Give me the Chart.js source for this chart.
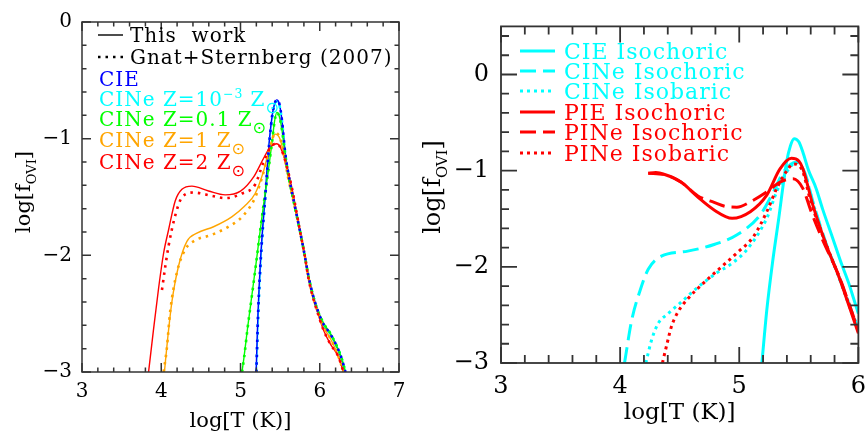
<!DOCTYPE html>
<html>
<head>
<meta charset="utf-8">
<script src="https://cdn.jsdelivr.net/npm/chart.js@4.4.0/dist/chart.umd.min.js"></script>
<style>
html, body { margin: 0; padding: 0; background: #fff; overflow: hidden; width: 865px; height: 437px; }
canvas { position: absolute; top: 0; }
#left { left: 0; }
#right { left: 415px; }
</style>
</head>
<body>
<canvas id="left" width="415" height="437"></canvas>
<canvas id="right" width="460" height="437"></canvas>
<script>
// ---- left panel: log T vs log f_OVI, this work (solid) ----
const cieT = [5.197, 5.22, 5.256, 5.31, 5.366, 5.40, 5.43, 5.458, 5.49, 5.522, 5.564, 5.62, 5.68, 5.753, 5.81, 5.858, 5.91, 5.963, 6.047, 6.131, 6.216, 6.27, 6.32];
const cieF = [-3.0, -2.5, -2.0, -1.5, -1.0, -0.80, -0.70, -0.668, -0.70, -0.835, -1.12, -1.36, -1.56, -1.80, -2.0, -2.18, -2.33, -2.45, -2.59, -2.673, -2.785, -2.88, -3.0];
const z3T = [5.20, 5.225, 5.26, 5.312, 5.368, 5.40, 5.43, 5.46, 5.49, 5.522, 5.564, 5.62, 5.68, 5.753, 5.81, 5.858, 5.91, 5.963, 6.047, 6.131, 6.216, 6.27, 6.325];
const z3F = [-3.0, -2.5, -2.0, -1.5, -1.0, -0.81, -0.71, -0.68, -0.71, -0.84, -1.12, -1.36, -1.56, -1.80, -2.0, -2.18, -2.33, -2.45, -2.59, -2.67, -2.78, -2.87, -3.0];
const z01T = [5.018, 5.04, 5.09, 5.144, 5.20, 5.249, 5.30, 5.35, 5.40, 5.43, 5.46, 5.49, 5.522, 5.564, 5.62, 5.68, 5.753, 5.81, 5.858, 5.91, 5.963, 6.047, 6.131, 6.216, 6.27, 6.325];
const z01F = [-3.0, -2.896, -2.62, -2.34, -2.05, -1.783, -1.52, -1.28, -1.02, -0.85, -0.775, -0.81, -0.92, -1.15, -1.37, -1.57, -1.80, -2.0, -2.18, -2.33, -2.45, -2.58, -2.665, -2.78, -2.87, -3.0];
const z1T = [4.04, 4.08, 4.135, 4.219, 4.324, 4.45, 4.66, 4.89, 5.05, 5.185, 5.29, 5.374, 5.44, 5.49, 5.542, 5.60, 5.68, 5.753, 5.81, 5.858, 5.91, 5.963, 6.047, 6.131, 6.216, 6.30];
const z1F = [-3.0, -2.72, -2.395, -2.089, -1.88, -1.81, -1.755, -1.67, -1.58, -1.47, -1.28, -1.06, -0.961, -0.99, -1.114, -1.33, -1.57, -1.80, -2.0, -2.19, -2.34, -2.46, -2.61, -2.71, -2.83, -3.0];
const z2T = [3.84, 3.90, 3.966, 4.03, 4.092, 4.177, 4.261, 4.387, 4.597, 4.807, 5.0, 5.164, 5.29, 5.374, 5.459, 5.50, 5.542, 5.60, 5.648, 5.753, 5.81, 5.858, 5.91, 5.963, 6.047, 6.131, 6.236, 6.30];
const z2F = [-3.0, -2.65, -2.284, -1.98, -1.783, -1.532, -1.434, -1.407, -1.449, -1.482, -1.45, -1.33, -1.17, -1.073, -1.044, -1.07, -1.142, -1.28, -1.42, -1.80, -2.0, -2.20, -2.35, -2.47, -2.64, -2.757, -2.87, -3.0];

// ---- left panel: Gnat+Sternberg (2007), dotted ----
const gsCieT = [5.20, 5.222, 5.258, 5.312, 5.368, 5.40, 5.43, 5.458, 5.49, 5.522, 5.564, 5.62, 5.68, 5.753, 5.81, 5.858, 5.91, 5.963, 6.047, 6.131, 6.216, 6.27, 6.325];
const gsCieF = [-3.0, -2.5, -2.0, -1.5, -1.0, -0.80, -0.70, -0.668, -0.70, -0.835, -1.12, -1.36, -1.56, -1.80, -2.0, -2.18, -2.33, -2.45, -2.59, -2.67, -2.78, -2.87, -3.0];
const gsZ3T = [5.20, 5.224, 5.26, 5.313, 5.369, 5.40, 5.43, 5.46, 5.49, 5.522, 5.564, 5.62, 5.68, 5.753, 5.81, 5.858, 5.91, 5.963, 6.047, 6.131, 6.216, 6.27, 6.325];
const gsZ3F = [-3.0, -2.5, -2.0, -1.5, -1.0, -0.81, -0.71, -0.68, -0.71, -0.84, -1.12, -1.36, -1.56, -1.80, -2.0, -2.18, -2.33, -2.45, -2.59, -2.67, -2.78, -2.87, -3.0];
const gsZ01T = [5.02, 5.045, 5.09, 5.145, 5.20, 5.25, 5.30, 5.35, 5.40, 5.43, 5.46, 5.49, 5.522, 5.564, 5.62, 5.68, 5.753, 5.81, 5.858, 5.91, 5.963, 6.047, 6.131, 6.216, 6.27, 6.325];
const gsZ01F = [-3.0, -2.88, -2.62, -2.34, -2.05, -1.78, -1.52, -1.28, -1.02, -0.85, -0.78, -0.81, -0.92, -1.15, -1.37, -1.57, -1.80, -2.0, -2.18, -2.33, -2.45, -2.58, -2.665, -2.78, -2.87, -3.0];
const gsZ1T = [4.03, 4.07, 4.113, 4.198, 4.303, 4.43, 4.639, 4.849, 5.018, 5.185, 5.29, 5.374, 5.44, 5.49, 5.542, 5.60, 5.68, 5.753, 5.81, 5.858, 5.91, 5.963, 6.047, 6.131, 6.216, 6.30];
const gsZ1F = [-3.0, -2.8, -2.479, -2.145, -1.95, -1.871, -1.824, -1.754, -1.671, -1.504, -1.29, -1.07, -0.95, -0.98, -1.11, -1.33, -1.57, -1.80, -2.0, -2.19, -2.34, -2.46, -2.61, -2.71, -2.83, -3.0];
const gsZ2T = [4.009, 4.05, 4.092, 4.177, 4.261, 4.408, 4.639, 4.807, 5.018, 5.185, 5.29, 5.374, 5.459, 5.50, 5.542, 5.60, 5.648, 5.753, 5.81, 5.858, 5.91, 5.963, 6.047, 6.131, 6.236, 6.30];
const gsZ2F = [-2.297, -2.10, -1.921, -1.657, -1.504, -1.462, -1.49, -1.51, -1.47, -1.393, -1.20, -1.08, -1.04, -1.07, -1.14, -1.28, -1.42, -1.80, -2.0, -2.20, -2.35, -2.47, -2.64, -2.757, -2.87, -3.0];

// ---- right panel ----
const cieIsochoricT = [5.19, 5.231, 5.28, 5.328, 5.397, 5.43, 5.461, 5.50, 5.535, 5.58, 5.646, 5.70, 5.784, 5.85, 5.922, 5.96, 6.0];
const cieIsochoricF = [-3.0, -2.453, -1.95, -1.529, -0.913, -0.74, -0.667, -0.70, -0.811, -0.99, -1.187, -1.40, -1.70, -1.94, -2.18, -2.33, -2.487];
const cineIsochoricT = [4.037, 4.097, 4.167, 4.236, 4.346, 4.568, 4.789, 4.982, 5.176, 5.287, 5.37, 5.48, 5.55, 5.62, 5.73, 5.84, 5.92, 6.0];
const cineIsochoricF = [-3.0, -2.556, -2.248, -2.025, -1.889, -1.837, -1.768, -1.666, -1.46, -1.221, -1.015, -0.913, -1.02, -1.33, -1.76, -2.11, -2.38, -2.65];
const cineIsobaricT = [4.216, 4.264, 4.319, 4.402, 4.512, 4.65, 4.816, 4.927, 5.065, 5.231, 5.314, 5.397, 5.48, 5.55, 5.62, 5.73, 5.84, 5.92, 6.0];
const cineIsobaricF = [-3.0, -2.761, -2.59, -2.487, -2.368, -2.214, -2.06, -1.974, -1.82, -1.495, -1.221, -1.016, -0.913, -1.03, -1.34, -1.77, -2.12, -2.39, -2.65];
const pieIsochoricT = [4.236, 4.30, 4.374, 4.512, 4.65, 4.789, 4.94, 5.093, 5.231, 5.342, 5.438, 5.50, 5.535, 5.618, 5.729, 5.839, 5.92, 6.0];
const pieIsochoricF = [-1.026, -1.02, -1.04, -1.119, -1.273, -1.409, -1.495, -1.427, -1.255, -0.982, -0.872, -0.90, -0.982, -1.358, -1.768, -2.111, -2.40, -2.692];
const pineIsochoricT = [4.236, 4.374, 4.512, 4.65, 4.789, 4.899, 4.98, 5.093, 5.231, 5.342, 5.452, 5.535, 5.604, 5.70, 5.839, 5.92, 6.0];
const pineIsochoricF = [-1.026, -1.04, -1.12, -1.26, -1.33, -1.375, -1.38, -1.324, -1.221, -1.119, -1.085, -1.187, -1.427, -1.72, -2.10, -2.38, -2.66];
const pineIsobaricT = [4.355, 4.388, 4.43, 4.485, 4.568, 4.706, 4.844, 4.982, 5.121, 5.231, 5.314, 5.40, 5.452, 5.53, 5.60, 5.73, 5.84, 5.92, 6.0];
const pineIsobaricF = [-3.0, -2.83, -2.624, -2.47, -2.333, -2.162, -2.008, -1.854, -1.683, -1.427, -1.187, -1.0, -0.93, -1.0, -1.32, -1.77, -2.11, -2.39, -2.66];

const BLUE = '#0000ff', CYAN = '#00ffff', GREEN = '#00ff00', ORANGE = '#ffa500', RED = '#ff0000';
const FONT = '"DejaVu Serif", serif';

function pts(xs, ys) {
    return xs.map((x, i) => ({ x: x, y: ys[i] }));
}

function line(xs, ys, color, width, dash, order) {
    return {
        data: pts(xs, ys),
        borderColor: color,
        borderWidth: width,
        borderDash: dash,
        pointRadius: 0,
        fill: false,
        cubicInterpolationMode: 'monotone',
        order: order
    };
}

// text pieces: sup = superscript, sub = subscript, sun = the solar symbol
function pieceSize(p, size) {
    if (p.sun) return size * 0.8;
    return (p.sup || p.sub) ? size * 0.62 : size;
}

function drawRich(ctx, x, y, parts, size, color) {
    ctx.fillStyle = color;
    ctx.textBaseline = 'alphabetic';
    ctx.textAlign = 'left';
    for (const p of parts) {
        ctx.font = pieceSize(p, size) + 'px ' + (p.sun ? '"DejaVu Sans"' : FONT);
        let dy = 0;
        if (p.sup) dy = -size * 0.42;
        if (p.sub) dy = size * 0.28;
        if (p.sun) dy = size * 0.36;
        ctx.fillText(p.t, x, y + dy);
        x += ctx.measureText(p.t).width;
    }
    return x;
}

function richWidth(ctx, parts, size) {
    let w = 0;
    for (const p of parts) {
        ctx.font = pieceSize(p, size) + 'px ' + FONT;
        w += ctx.measureText(p.t).width;
    }
    return w;
}

// frame with inward ticks on all sides, legend and y title
const framePlugin = {
    id: 'frame',
    afterDraw(chart, args, o) {
        const { ctx, chartArea: a, scales: { x, y } } = chart;
        ctx.save();
        ctx.strokeStyle = '#333';
        ctx.lineWidth = o.lw;
        ctx.strokeRect(a.left, a.top, a.right - a.left, a.bottom - a.top);
        ctx.beginPath();
        for (let i = Math.ceil(x.min * 5 - 1e-6); i <= Math.floor(x.max * 5 + 1e-6); i++) {
            const px = x.getPixelForValue(i / 5);
            const len = i % 5 === 0 ? o.major : o.minor;
            ctx.moveTo(px, a.bottom); ctx.lineTo(px, a.bottom - len);
            ctx.moveTo(px, a.top); ctx.lineTo(px, a.top + len);
        }
        for (let i = Math.ceil(y.min * 5 - 1e-6); i <= Math.floor(y.max * 5 + 1e-6); i++) {
            const py = y.getPixelForValue(i / 5);
            const len = i % 5 === 0 ? o.major : o.minor;
            ctx.moveTo(a.left, py); ctx.lineTo(a.left + len, py);
            ctx.moveTo(a.right, py); ctx.lineTo(a.right - len, py);
        }
        ctx.stroke();

        // legend
        ctx.letterSpacing = o.spacing + 'px';
        for (const row of o.legend) {
            if (row.sample) {
                ctx.beginPath();
                ctx.strokeStyle = row.sample.color;
                ctx.lineWidth = row.sample.width;
                ctx.setLineDash(row.sample.dash);
                ctx.moveTo(row.sample.x0, row.y - o.capMid);
                ctx.lineTo(row.sample.x1, row.y - o.capMid);
                ctx.stroke();
                ctx.setLineDash([]);
            }
            drawRich(ctx, row.x, row.y, row.parts, o.legendSize, row.color);
        }
        ctx.letterSpacing = '0px';

        // y axis title, rotated
        const tp = [{ t: 'log[f' }, { t: 'OVI', sub: true }, { t: ']' }];
        const w = richWidth(ctx, tp, o.titleSize);
        ctx.translate(o.titleX, o.titleY);
        ctx.rotate(-Math.PI / 2);
        drawRich(ctx, -w / 2, 0, tp, o.titleSize, '#000');
        ctx.restore();
    }
};

function minusTick(v) {
    return v < 0 ? '\u2212' + Math.abs(v) : String(v);
}

function axes(xmin, xmax, ymin, ymax, yWidth, xHeight, tickSize, xPad, yPad, titleSize, titlePad) {
    return {
        x: {
            type: 'linear', min: xmin, max: xmax,
            grid: { display: false, drawTicks: false },
            border: { display: false },
            ticks: { stepSize: 1, includeBounds: false, padding: xPad, color: '#000', font: { family: FONT, size: tickSize }, maxRotation: 0, callback: minusTick },
            title: { display: true, text: 'log[T (K)]', color: '#000', font: { family: FONT, size: titleSize }, padding: { top: 0, bottom: titlePad } },
            afterFit(s) { s.height = xHeight; }
        },
        y: {
            type: 'linear', min: ymin, max: ymax,
            grid: { display: false, drawTicks: false },
            border: { display: false },
            ticks: { stepSize: 1, includeBounds: false, padding: yPad, color: '#000', font: { family: FONT, size: tickSize }, callback: minusTick },
            afterFit(s) { s.width = yWidth; }
        }
    };
}

document.addEventListener('DOMContentLoaded', function () {
    const dot = [2.5, 5];
    new Chart(document.getElementById('left'), {
        type: 'line',
        data: {
            datasets: [
                line(z3T, z3F, CYAN, 1.4, [], 20),
                line(cieT, cieF, BLUE, 1.4, [], 19),
                line(z01T, z01F, GREEN, 1.4, [], 18),
                line(z1T, z1F, ORANGE, 1.4, [], 17),
                line(z2T, z2F, RED, 1.4, [], 16),
                line(gsZ3T, gsZ3F, CYAN, 2.6, dot, 15),
                line(gsZ01T, gsZ01F, GREEN, 2.6, dot, 14),
                line(gsZ1T, gsZ1F, ORANGE, 2.6, dot, 13),
                line(gsZ2T, gsZ2F, RED, 2.6, dot, 12),
                line(gsCieT, gsCieF, BLUE, 2.6, dot, 11)
            ]
        },
        options: {
            responsive: false,
            animation: false,
            layout: { padding: { left: 0, top: 13, right: 16, bottom: 0 } },
            scales: axes(3, 7, -3, 0, 82, 65, 20, 8, 10, 21, 3),
            plugins: {
                legend: { display: false },
                tooltip: { enabled: false },
                frame: {
                    lw: 1.5, major: 9, minor: 4.5,
                    legendSize: 20, spacing: 1, capMid: 7,
                    titleSize: 21, titleX: 30, titleY: 192,
                    legend: [
                        { x: 130, y: 42, color: '#000', parts: [{ t: 'This  work' }], sample: { x0: 98, x1: 123, color: '#000', width: 1.4, dash: [] } },
                        { x: 130, y: 64, color: '#000', parts: [{ t: 'Gnat+Sternberg (2007)' }], sample: { x0: 98, x1: 123, color: '#000', width: 2.6, dash: dot } },
                        { x: 99, y: 86, color: BLUE, parts: [{ t: 'CIE' }] },
                        { x: 99, y: 106, color: CYAN, parts: [{ t: 'CINe Z=10' }, { t: '\u22123', sup: true }, { t: ' Z' }, { t: '\u2299', sun: true }] },
                        { x: 99, y: 126, color: GREEN, parts: [{ t: 'CINe Z=0.1 Z' }, { t: '\u2299', sun: true }] },
                        { x: 99, y: 147, color: ORANGE, parts: [{ t: 'CINe Z=1 Z' }, { t: '\u2299', sun: true }] },
                        { x: 99, y: 169, color: RED, parts: [{ t: 'CINe Z=2 Z' }, { t: '\u2299', sun: true }] }
                    ]
                }
            }
        },
        plugins: [framePlugin]
    });

    const dash = [16, 7], dots = [3, 4];
    new Chart(document.getElementById('right'), {
        type: 'line',
        data: {
            datasets: [
                line(cieIsochoricT, cieIsochoricF, CYAN, 3, [], 6),
                line(cineIsochoricT, cineIsochoricF, CYAN, 3, dash, 5),
                line(cineIsobaricT, cineIsobaricF, CYAN, 3, dots, 4),
                line(pineIsobaricT, pineIsobaricF, RED, 3, dots, 3),
                line(pineIsochoricT, pineIsochoricF, RED, 3, dash, 2),
                line(pieIsochoricT, pieIsochoricF, RED, 3, [], 1)
            ]
        },
        options: {
            responsive: false,
            animation: false,
            layout: { padding: { left: 0, top: 23, right: 12, bottom: 0 } },
            scales: axes(3, 6, -3, 0.5, 86, 74, 24, 9, 12, 23, 10),
            plugins: {
                legend: { display: false },
                tooltip: { enabled: false },
                frame: {
                    lw: 1.8, major: 16, minor: 8,
                    legendSize: 22, spacing: 1, capMid: 8,
                    titleSize: 24, titleX: 25, titleY: 187,
                    legend: [
                        { x: 149, y: 59, color: CYAN, parts: [{ t: 'CIE Isochoric' }], sample: { x0: 105, x1: 140, color: CYAN, width: 3, dash: [] } },
                        { x: 149, y: 79, color: CYAN, parts: [{ t: 'CINe Isochoric' }], sample: { x0: 105, x1: 140, color: CYAN, width: 3, dash: dash } },
                        { x: 149, y: 99, color: CYAN, parts: [{ t: 'CINe Isobaric' }], sample: { x0: 105, x1: 140, color: CYAN, width: 3, dash: dots } },
                        { x: 149, y: 120, color: RED, parts: [{ t: 'PIE Isochoric' }], sample: { x0: 105, x1: 140, color: RED, width: 3, dash: [] } },
                        { x: 149, y: 140, color: RED, parts: [{ t: 'PINe Isochoric' }], sample: { x0: 105, x1: 140, color: RED, width: 3, dash: dash } },
                        { x: 149, y: 161, color: RED, parts: [{ t: 'PINe Isobaric' }], sample: { x0: 105, x1: 140, color: RED, width: 3, dash: dots } }
                    ]
                }
            }
        },
        plugins: [framePlugin]
    });
});
</script>
</body>
</html>
